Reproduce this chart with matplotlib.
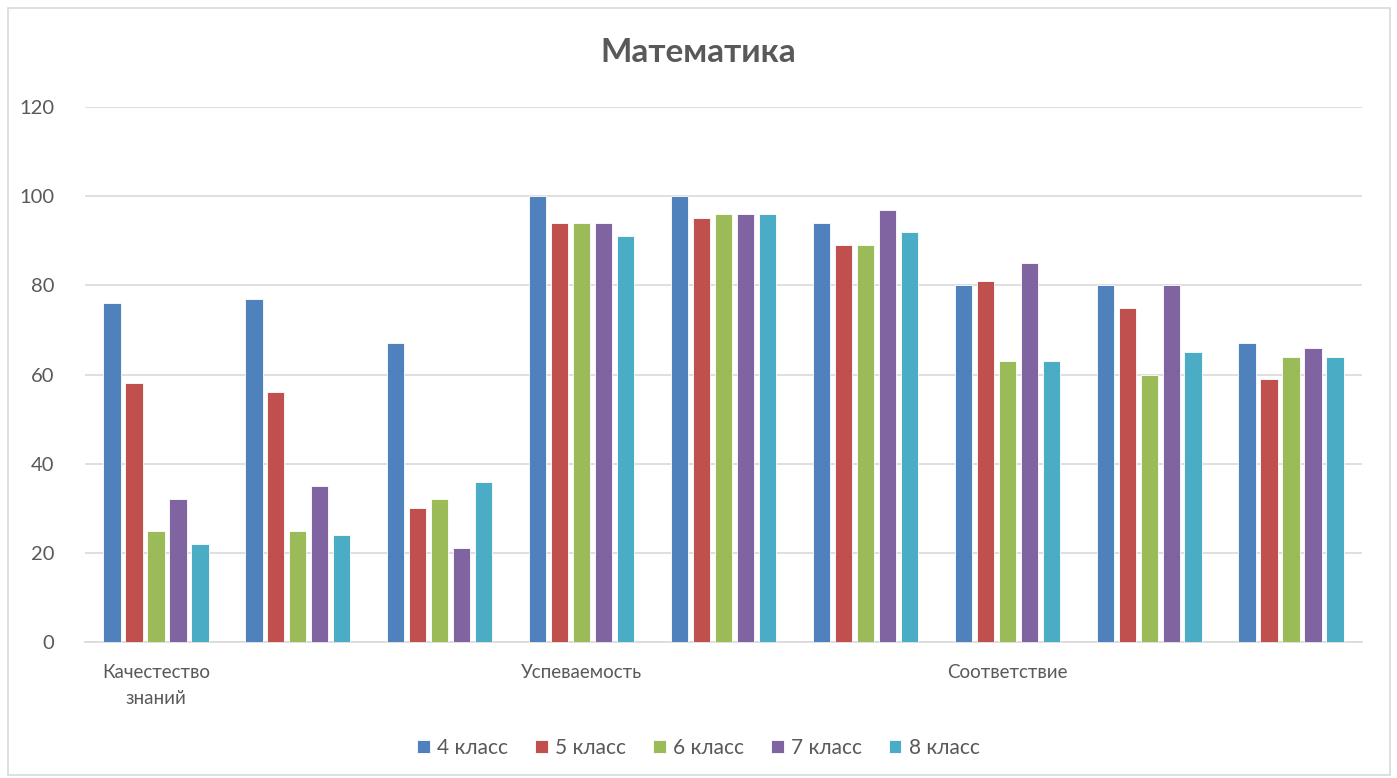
import matplotlib.pyplot as plt
import numpy as np
from matplotlib.patches import Rectangle

plt.rcParams['font.family'] = ['Lato', 'DejaVu Sans']

categories = ["Качестество\nзнаний", "", "", "Успеваемость", "", "", "Соответствие", "", ""]
series_names = ["4 класс", "5 класс", "6 класс", "7 класс", "8 класс"]
values_4 = [76, 77, 67, 100, 100, 94, 80, 80, 67]
values_5 = [58, 56, 30, 94, 95, 89, 81, 75, 59]
values_6 = [25, 25, 32, 94, 96, 89, 63, 60, 64]
values_7 = [32, 35, 21, 94, 96, 97, 85, 80, 66]
values_8 = [22, 24, 36, 91, 96, 92, 63, 65, 64]
colors = ["#4F81BD", "#C0504D", "#9BBB59", "#8064A2", "#4BACC6"]

series = [values_4, values_5, values_6, values_7, values_8]
text_color = "#595959"

fig = plt.figure(figsize=(13.97, 7.78), dpi=100)
ax = fig.add_axes([85 / 1397, 1 - 642 / 778, (1362 - 85) / 1397, (642 - 107) / 778])

x = np.arange(len(categories))
step = 0.155
width = 0.122
for i, (vals, name, col) in enumerate(zip(series, series_names, colors)):
    ax.bar(x + (i - 2) * step, vals, width=width, color=col, label=name,
           edgecolor="white", linewidth=0.6, zorder=3)

ax.set_xlim(-0.5, len(categories) - 0.5)
ax.set_ylim(0, 120)
ax.set_yticks(range(0, 121, 20))
ax.yaxis.grid(True, color="#d9d9d9", linewidth=1.2, zorder=0)
ax.set_xticks(x)
ax.set_xticklabels(categories, fontsize=13.5, color=text_color, linespacing=1.6)
ax.tick_params(axis="x", length=0, pad=16)
ax.tick_params(axis="y", length=0, pad=22, labelsize=14.5, labelcolor=text_color)
for side in ["top", "right", "left"]:
    ax.spines[side].set_visible(False)
ax.spines["bottom"].set_color("#d9d9d9")
ax.spines["bottom"].set_linewidth(1.2)

fig.text(0.5, 1 - 52 / 778, "Математика", ha="center", va="center",
         fontsize=24, fontweight="bold", color=text_color)

leg = fig.legend(loc="center", bbox_to_anchor=(0.5, 1 - 748 / 778), ncol=5,
                 frameon=False, fontsize=15, handlelength=0.6, handleheight=0.6,
                 columnspacing=1.3, handletextpad=0.35)
for t in leg.get_texts():
    t.set_color(text_color)

fig.patches.append(Rectangle((8 / 1397, 3 / 778), 1382 / 1397, 767 / 778,
                             transform=fig.transFigure, fill=False,
                             edgecolor="#d9d9d9", linewidth=1.2))

fig.savefig("out.png", dpi=100, facecolor="white")
